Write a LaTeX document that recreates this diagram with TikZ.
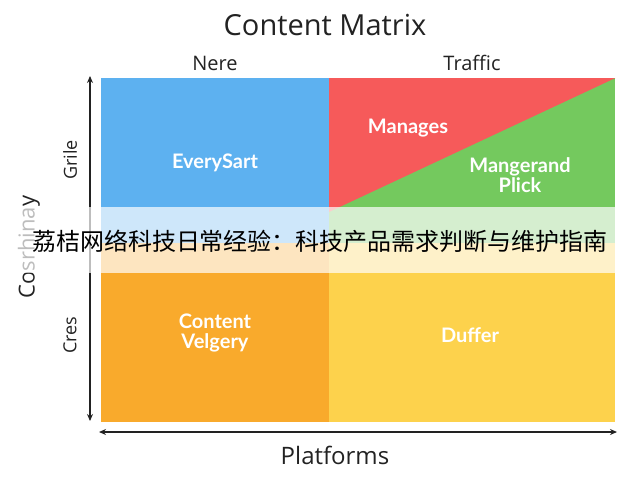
\documentclass[tikz,border=0pt]{standalone}
\usepackage{fontspec}
\setmainfont{Open Sans}
\newfontfamily\lato{Lato}
\newfontfamily\cjk{Noto Sans CJK SC}
\usepackage{tikz}
\usetikzlibrary{positioning,calc,arrows.meta}
\definecolor{cblue}{HTML}{5DB1F0}
\definecolor{cred}{HTML}{F65A5A}
\definecolor{cgreen}{HTML}{74C95E}
\definecolor{corange}{HTML}{F9AA2C}
\definecolor{cyellow}{HTML}{FDD24C}
\definecolor{ctext}{HTML}{222222}
\tikzset{
x=1pt,y=-1pt,
cell/.style={rectangle,inner sep=0,anchor=north west},
ql/.style={text=white,font=\lato\bfseries\fontsize{20}{20}\selectfont,align=center},
hd/.style={text=ctext,font=\fontsize{20}{22}\selectfont},
rl/.style={text=ctext,font=\fontsize{18}{20}\selectfont,rotate=90},
ax/.style={{Stealth[length=7pt,width=6pt]}-{Stealth[length=7pt,width=6pt]},line width=1.3pt,draw=ctext},
}
\begin{document}
\begin{tikzpicture}
\useasboundingbox (0,0) rectangle (640,480);
% cells
\node[cell,fill=cblue,minimum width=228,minimum height=165] (tl) at (101,78) {};
\node[cell,fill=cgreen,minimum width=286,minimum height=165] (tr) at (329,78) {};
\node[cell,fill=corange,minimum width=228,minimum height=179] (bl) at (101,243) {};
\node[cell,fill=cyellow,minimum width=286,minimum height=179] (br) at (329,243) {};
\fill[cred] (tr.north east) -- (tr.north west) -- ($(tr.north west)!0.81!(tr.south west)$) -- cycle;

% quadrant labels
\node[ql] (every) at (215,163) {EverySart};
\node[ql] (manages) at (408,128) {Manages};
\node[ql] (plick) at (520,175) {Mangerand\\Plick};
\node[ql] (velgery) at (215,333) {Content\\Velgery};
\node[ql] (duffer) at (470,335) {Duffer};

% headers
\node[text=ctext,font=\fontsize{29}{32}\selectfont] (title) at (325,25) {Content Matrix};
\node[hd] (nere) at (215,63) {Nere};
\node[hd] (traffic) at (472,63) {Traffic};
\node[rl] (grile) at (70,160) {Grile};
\node[rl] (cres) at (70,335) {Cres};
\node[rl,font=\fontsize{22}{24}\selectfont] (ylab) at (29,247) {Cosrhinay};
\node[text=ctext,font=\fontsize{24}{26}\selectfont] (plat) at (335,455) {Platforms};

% axes
\coordinate (ytop) at (90,76);
\coordinate (ybot) at (90,421);
\coordinate (xl) at (99,432);
\coordinate (xr) at (617,432);
\draw[ax] (ybot) -- (ytop);
\draw[ax] (xl) -- (xr);

% watermark band
\fill[white,opacity=0.7] (0,207) rectangle (640,273);
\node[font=\cjk\fontsize{24}{26}\selectfont,text=black] (wm) at (320,241) {荔桔网络科技日常经验：科技产品需求判断与维护指南};
\end{tikzpicture}
\end{document}
